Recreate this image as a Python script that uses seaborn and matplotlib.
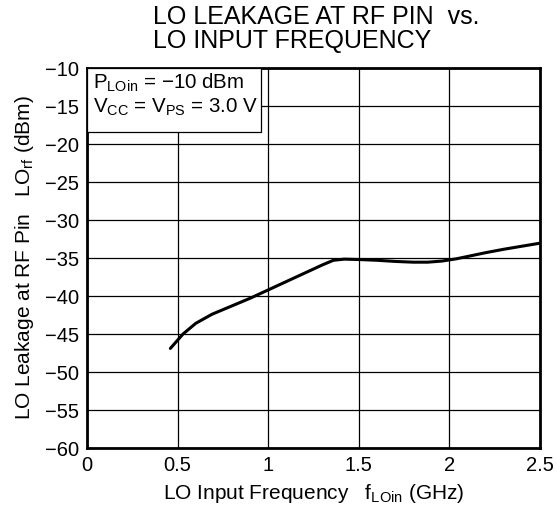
import pandas as pd
import matplotlib.pyplot as plt
import seaborn as sns
from matplotlib.patches import Rectangle

# values
freq_ghz = [0.46, 0.53, 0.60, 0.69, 0.80, 0.90, 1.00, 1.10, 1.20, 1.30, 1.36, 1.42, 1.50, 1.60, 1.70, 1.80, 1.88, 1.96, 2.04, 2.12, 2.20, 2.30, 2.40, 2.50]
leak_dbm = [-46.9, -45.0, -43.6, -42.4, -41.3, -40.3, -39.2, -38.1, -37.0, -35.9, -35.3, -35.15, -35.2, -35.3, -35.45, -35.55, -35.55, -35.4, -35.1, -34.7, -34.3, -33.85, -33.45, -33.05]

x_ticks = [0, 0.5, 1, 1.5, 2, 2.5]
x_tick_labels = ["0", "0.5", "1", "1.5", "2", "2.5"]
y_ticks = [-60, -55, -50, -45, -40, -35, -30, -25, -20, -15, -10]

df = pd.DataFrame({"freq": freq_ghz, "leak": leak_dbm})

sns.set_theme(style="white")
plt.rcParams["font.family"] = ["Liberation Sans", "DejaVu Sans"]
plt.rcParams["mathtext.fontset"] = "custom"
plt.rcParams["mathtext.rm"] = "Liberation Sans"
plt.rcParams["mathtext.it"] = "Liberation Sans"

fig = plt.figure(figsize=(5.57, 5.12), dpi=100)
ax = fig.add_axes([87 / 557, 64 / 512, 453 / 557, 380 / 512])

sns.lineplot(data=df, x="freq", y="leak", color="black", linewidth=2.2, ax=ax)

ax.set_xlim(0, 2.5)
ax.set_ylim(-60, -10)
ax.set_xticks(x_ticks)
ax.set_xticklabels(x_tick_labels)
ax.set_yticks(y_ticks)
ax.set_yticklabels([str(v).replace("-", "\u2212") for v in y_ticks])
ax.tick_params(axis="both", length=0, labelsize=14.5, colors="black", pad=6)
ax.grid(True, color="black", linewidth=0.9)
for s in ax.spines.values():
    s.set_color("black")
    s.set_linewidth(2)

ax.set_xlabel(r"LO Input Frequency   f$_{\mathrm{LOin}}$ (GHz)", fontsize=15, color="black", labelpad=5)
ax.set_ylabel(r"LO Leakage at RF Pin   LO$_{\mathrm{rf}}$ (dBm)", fontsize=15, color="black", labelpad=6)

# title block: left-aligned lines, block centred over the plot
fig.text(316 / 557, 1 - 29 / 512, "LO LEAKAGE AT RF PIN  vs.\nLO INPUT FREQUENCY",
         ha="center", va="center", multialignment="left", fontsize=18, color="black",
         linespacing=0.95)

# condition box flush with the top-left corner
ax.add_patch(Rectangle((0, 1 - 64 / 380), 174 / 453, 64 / 380, transform=ax.transAxes,
                       facecolor="white", edgecolor="black", linewidth=0.9, zorder=3))
ax.text(6 / 453, 1 - 4 / 380,
        "P$_{\\mathrm{LOin}}$ = \u221210 dBm\nV$_{\\mathrm{CC}}$ = V$_{\\mathrm{PS}}$ = 3.0 V",
        transform=ax.transAxes, ha="left", va="top", fontsize=14.8, color="black",
        linespacing=1.15, zorder=4)

plt.savefig("out.png", dpi=100)
